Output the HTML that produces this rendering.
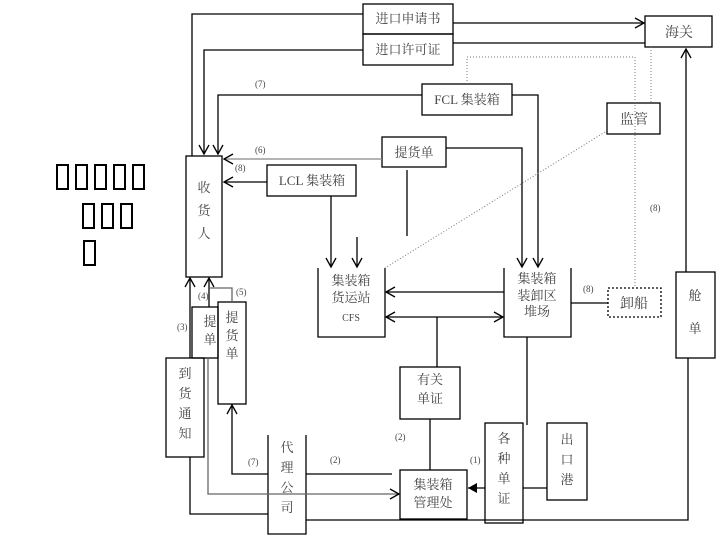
<!DOCTYPE html>
<html><head><meta charset="utf-8"><style>
body{margin:0;background:#fff;width:720px;height:540px;overflow:hidden;position:relative}
.t{position:absolute;border:2px solid #000;width:13px;height:26px;box-sizing:border-box}
svg{position:absolute;left:0;top:0}
text{font-family:"Liberation Serif","Noto Serif CJK SC","Noto Sans CJK SC",serif;fill:#444}
</style></head><body>
<div class="t" style="left:56px;top:164px"></div><div class="t" style="left:75px;top:164px"></div><div class="t" style="left:94px;top:164px"></div><div class="t" style="left:113px;top:164px"></div><div class="t" style="left:132px;top:164px"></div>
<div class="t" style="left:82px;top:203px"></div><div class="t" style="left:101px;top:203px"></div><div class="t" style="left:120px;top:203px"></div>
<div class="t" style="left:83px;top:240px"></div>
<svg width="720" height="540" viewBox="0 0 720 540" font-size="13">
<defs><marker id="a" markerWidth="12" markerHeight="12" refX="10" refY="6" orient="auto" markerUnits="userSpaceOnUse"><path d="M1,1 L10,6 L1,11" fill="none" stroke="#000" stroke-width="1.3"/></marker>
<marker id="f" markerWidth="10" markerHeight="10" refX="9" refY="5" orient="auto" markerUnits="userSpaceOnUse"><path d="M0,0 L9,5 L0,10z" fill="#000"/></marker></defs>
<g fill="none" stroke="#000" stroke-width="1.3">
<!-- boxes -->
<rect x="363" y="4" width="90" height="30"/><rect x="363" y="34" width="90" height="31"/>
<rect x="645" y="16" width="67" height="31"/>
<rect x="422" y="84" width="90" height="31"/>
<rect x="382" y="137" width="64" height="30"/>
<rect x="267" y="165" width="89" height="31"/>
<rect x="607" y="103" width="53" height="31"/>
<rect x="186" y="156" width="36" height="121"/>
<path d="M318,268 V337 H385 V268"/>
<path d="M504,268 V337 H571 V268"/>
<rect x="608" y="288" width="53" height="29" stroke-dasharray="2,2"/>
<rect x="676" y="272" width="39" height="86"/>
<rect x="400" y="367" width="60" height="52"/>
<rect x="400" y="470" width="67" height="49"/>
<rect x="485" y="423" width="38" height="100"/>
<rect x="547" y="423" width="40" height="77"/>
<path d="M268,435 V534 H306 V435"/>
<rect x="192" y="307" width="26" height="51"/>
<rect x="218" y="302" width="28" height="102"/>
<rect x="166" y="358" width="38" height="99"/>
<!-- connectors -->
<path d="M363,14 H192 V156"/>
<path d="M363,50 H204 V154" marker-end="url(#a)"/>
<path d="M422,95 H218 V154" marker-end="url(#a)"/>
<path d="M382,159 H224" stroke="#888" marker-end="url(#a)"/>
<path d="M267,182 H224" marker-end="url(#a)"/>
<path d="M331,196 V267" marker-end="url(#a)"/>
<path d="M357,237 V267" marker-end="url(#a)"/>
<path d="M407,170 V236"/>
<path d="M453,23 H644" marker-end="url(#a)"/>
<path d="M453,43 H645"/>
<path d="M512,95 H538 V267" marker-end="url(#a)"/>
<path d="M446,148 H522 V267" marker-end="url(#a)"/>
<path d="M504,292 H386" marker-end="url(#a)"/>
<path d="M437,317 H386" marker-end="url(#a)"/><path d="M437,317 H503" marker-end="url(#a)"/>
<path d="M437,317 V367"/>
<path d="M430,419 V470"/>
<path d="M571,303 H608"/>
<path d="M527,337 V425"/>
<path d="M547,488 H523"/>
<path d="M485,488 H468" marker-end="url(#f)"/>
<path d="M686,272 V49" marker-end="url(#a)"/>
<path d="M688,358 V520 H306"/>
<path d="M306,474 H392"/>
<path d="M208,358 V494 H399" stroke="#666" marker-end="url(#a)"/>
<path d="M268,474 H232 V405" marker-end="url(#a)"/>
<path d="M190,457 V514 H268"/>
<path d="M190,358 V278" marker-end="url(#a)"/>
<path d="M209,307 V278" marker-end="url(#a)"/>
<path d="M232,302 V288 H210" stroke="#666"/>
<g stroke="#777" stroke-width="1" stroke-dasharray="1,2">
<path d="M467,84 V57 H635 V288"/><path d="M651,47 V103"/><path d="M605,132 L385,268"/>
</g>
</g>
<g text-anchor="middle">
<text x="408" y="23">进口申请书</text><text x="408" y="54">进口许可证</text>
<text x="679" y="37" font-size="14">海关</text>
<text x="467" y="104">FCL 集装箱</text>
<text x="414" y="157">提货单</text>
<text x="312" y="185">LCL 集装箱</text>
<text x="634" y="124" font-size="14">监管</text>
<text x="204" y="192">收</text><text x="204" y="215">货</text><text x="204" y="238">人</text>
<text x="351" y="285">集装箱</text><text x="351" y="302">货运站</text><text x="351" y="321" font-size="10">CFS</text>
<text x="537" y="283">集装箱</text><text x="537" y="300">装卸区</text><text x="537" y="316">堆场</text>
<text x="634" y="308" font-size="14">卸船</text>
<text x="695" y="300">舱</text><text x="695" y="333">单</text>
<text x="430" y="384">有关</text><text x="430" y="403">单证</text>
<text x="433" y="489">集装箱</text><text x="433" y="507">管理处</text>
<text x="504" y="443">各</text><text x="504" y="463">种</text><text x="504" y="483">单</text><text x="504" y="503">证</text>
<text x="567" y="444">出</text><text x="567" y="464">口</text><text x="567" y="484">港</text>
<text x="287" y="452">代</text><text x="287" y="472">理</text><text x="287" y="492">公</text><text x="287" y="512">司</text>
<text x="210" y="326">提</text><text x="210" y="344">单</text>
<text x="232" y="322">提</text><text x="232" y="340">货</text><text x="232" y="358">单</text>
<text x="185" y="378">到</text><text x="185" y="398">货</text><text x="185" y="418">通</text><text x="185" y="438">知</text>
</g>
<g font-size="9" fill="#444">
<text x="255" y="87">(7)</text><text x="255" y="153">(6)</text><text x="235" y="171">(8)</text>
<text x="198" y="299">(4)</text><text x="236" y="295">(5)</text><text x="177" y="330">(3)</text>
<text x="248" y="465">(7)</text><text x="330" y="463">(2)</text><text x="395" y="440">(2)</text>
<text x="470" y="463">(1)</text><text x="583" y="292">(8)</text><text x="650" y="211">(8)</text>
</g>
</svg>
</body></html>
